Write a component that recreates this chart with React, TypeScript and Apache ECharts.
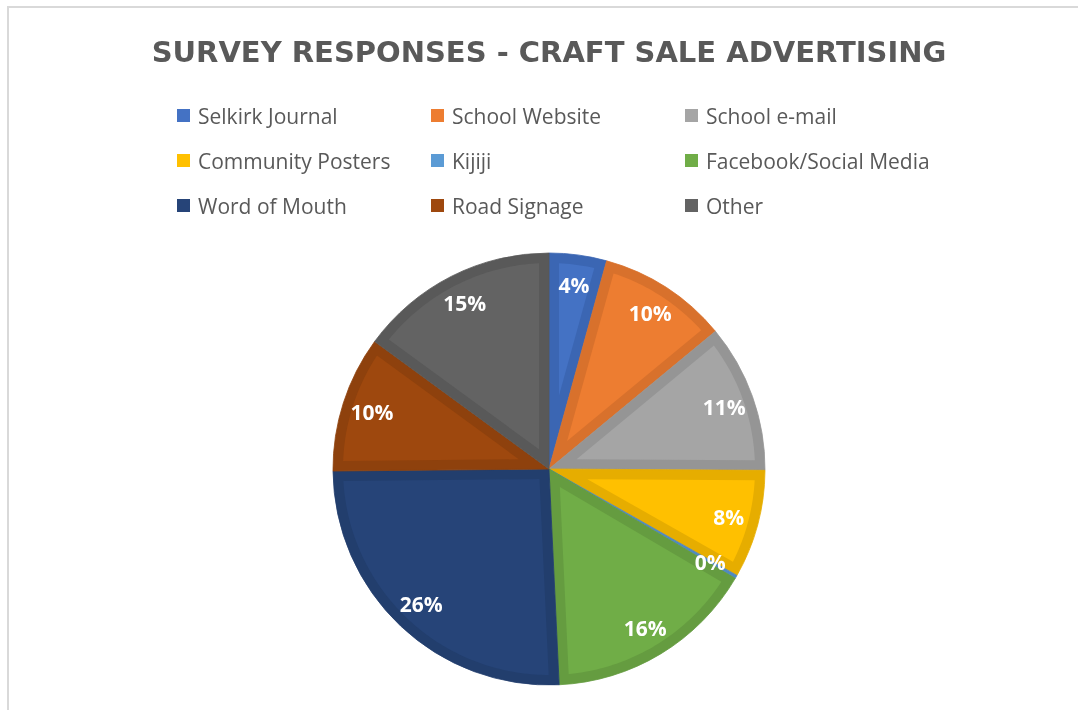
import React, { useEffect, useRef } from "react";
import * as echarts from "echarts";

const titleText = "SURVEY RESPONSES - CRAFT SALE ADVERTISING";
const categories = [
  "Selkirk Journal",
  "School Website",
  "School e-mail",
  "Community Posters",
  "Kijiji",
  "Facebook/Social Media",
  "Word of Mouth",
  "Road Signage",
  "Other",
];
const values = [4.3, 9.7, 11.1, 8.1, 0.25, 15.8, 25.6, 10.2, 14.95];
const fillColors = ["#4472C4", "#ED7D31", "#A5A5A5", "#FFC000", "#5B9BD5", "#70AD47", "#264478", "#9E480E", "#636363"];
const edgeColors = ["#3B66B3", "#D8712C", "#959595", "#E6AD00", "#5089C0", "#659C40", "#223E6D", "#8E410D", "#595959"];
const legendColumns = [
  [0, 3, 6],
  [1, 4, 7],
  [2, 5, 8],
];
const legendLefts = [177, 431, 685];

export default function App() {
  const ref = useRef<HTMLDivElement>(null);

  useEffect(() => {
    if (!ref.current) return;
    const chart = echarts.init(ref.current, null, { renderer: "svg" });
    const cx = 549;
    const cy = 469;
    const R = 216;
    const W = 10;
    const total = values.reduce((a, b) => a + b, 0);
    let acc = 0;
    const spans = values.map((v) => {
      const a0 = (acc / total) * Math.PI * 2;
      acc += v;
      return [a0, (acc / total) * Math.PI * 2];
    });
    const pt = (phi: number, r: number) => [cx + r * Math.sin(phi), cy - r * Math.cos(phi)];
    const insetPoints = (a0: number, a1: number) => {
      const th = a1 - a0;
      const Ri = R - W;
      const d = W / Math.sin(th / 2);
      if (!(d < Ri - 4)) return null;
      const am = (a0 + a1) / 2;
      const pts = [pt(am, d)];
      const del = Math.asin(W / Ri);
      const s = a0 + del;
      const e = a1 - del;
      const n = Math.max(2, Math.ceil((e - s) / (Math.PI / 180)));
      for (let i = 0; i <= n; i++) pts.push(pt(s + ((e - s) * i) / n, Ri));
      return pts;
    };

    const pieData = categories.map((name, i) => ({ name, value: values[i] }));

    chart.setOption({
      animation: false,
      textStyle: { fontFamily: "Open Sans" },
      title: {
        text: titleText,
        left: 544,
        textAlign: "center",
        top: 32,
        textStyle: { fontFamily: "DejaVu Sans", fontWeight: "bold", fontSize: 29, color: "#595959" },
      },
      legend: legendColumns.map((col, k) => ({
        orient: "vertical",
        left: legendLefts[k],
        top: 105,
        padding: 0,
        itemWidth: 13,
        itemHeight: 13,
        itemGap: 24,
        icon: "rect",
        selectedMode: false,
        itemStyle: { borderWidth: 0 },
        textStyle: { fontFamily: "Open Sans", fontSize: 21, color: "#595959", lineHeight: 21, padding: [0, 0, 0, 3] },
        data: col.map((i) => ({ name: categories[i], itemStyle: { color: fillColors[i], borderWidth: 0 } })),
      })),
      series: [
        {
          type: "pie",
          name: "base",
          z: 1,
          center: [cx, cy],
          radius: R,
          startAngle: 90,
          clockwise: true,
          silent: true,
          label: { show: false },
          labelLine: { show: false },
          emphasis: { disabled: true },
          data: pieData.map((d, i) => ({
            ...d,
            itemStyle: { color: edgeColors[i], borderColor: edgeColors[i], borderWidth: 0.8 },
          })),
        },
        {
          type: "custom",
          name: "fill",
          coordinateSystem: "none",
          z: 2,
          silent: true,
          data: values,
          renderItem: (params: any) => {
            const i = params.dataIndex;
            const pts = insetPoints(spans[i][0], spans[i][1]);
            if (!pts) return null;
            return { type: "polygon", shape: { points: pts }, style: { fill: fillColors[i] } };
          },
        },
        {
          type: "pie",
          name: "labels",
          z: 3,
          center: [cx, cy],
          radius: [150, R],
          startAngle: 90,
          clockwise: true,
          silent: true,
          itemStyle: { color: "transparent" },
          emphasis: { disabled: true },
          labelLine: { show: false },
          label: {
            show: true,
            position: "inside",
            formatter: (p: any) => Math.round(p.percent) + "%",
            color: "#ffffff",
            fontFamily: "Open Sans",
            fontWeight: "bold",
            fontSize: 21,
          },
          data: pieData,
        },
      ],
    });
    return () => chart.dispose();
  }, []);

  return (
    <>
      <div
        style={{
          position: "fixed",
          left: 7,
          top: 6,
          width: 1071,
          height: 704,
          borderTop: "2px solid #d9d9d9",
          borderLeft: "2px solid #d9d9d9",
          boxSizing: "border-box",
        }}
      />
      <div ref={ref} style={{ position: "fixed", left: 0, top: 0, width: 1078, height: 710 }} />
    </>
  );
}
